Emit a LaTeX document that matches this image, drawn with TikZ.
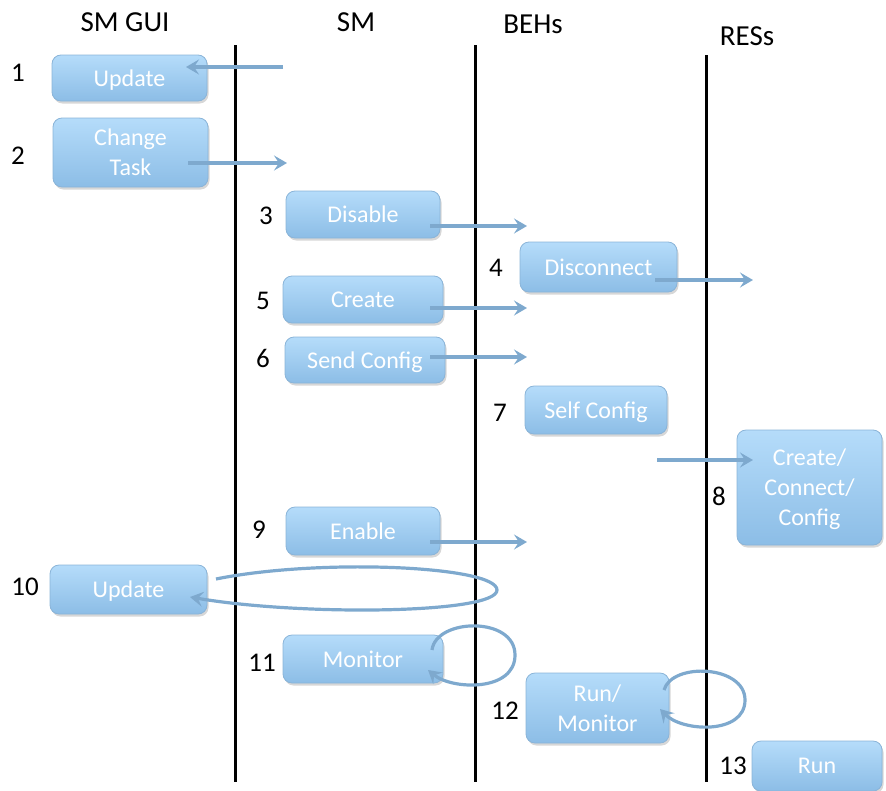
\documentclass[tikz,border=0pt]{standalone}
\usepackage{fontspec}
\setmainfont{Carlito}
\usetikzlibrary{arrows.meta,shadows}
\definecolor{boxtop}{HTML}{B5DCFA}
\definecolor{boxbot}{HTML}{8CBDE6}
\definecolor{boxline}{HTML}{8AB4D8}
\definecolor{arr}{HTML}{7EA9CE}
\begin{document}
\begin{tikzpicture}[x=1pt,y=-1pt,
  box/.style={rounded corners=9pt, draw=boxline, line width=0.8pt,
    top color=boxtop, bottom color=boxbot, text=white, align=center,
    inner sep=0pt, text depth=0pt, font=\fontsize{24}{30}\selectfont,
    drop shadow={shadow xshift=1.5pt, shadow yshift=-2.5pt, fill=black!35, opacity=0.45}},
  num/.style={font=\fontsize{27}{30}\selectfont, inner sep=0pt},
  head/.style={font=\fontsize{29}{32}\selectfont, inner sep=0pt},
  life/.style={line width=3pt, black},
  msg/.style={arr, line width=3.2pt, -{Stealth[length=13pt,width=15pt,inset=5pt]}}]
\useasboundingbox (0,0) rectangle (886,790);
% lifelines
\coordinate (l1t) at (235,45); \coordinate (l1b) at (235,782);
\coordinate (l2t) at (475,45); \coordinate (l2b) at (475,782);
\coordinate (l3t) at (706,55); \coordinate (l3b) at (706,782);
\draw[life] (l1t) -- (l1b);
\draw[life] (l2t) -- (l2b);
\draw[life] (l3t) -- (l3b);
% headers
\node[head] (hgui) at (125,22) {SM GUI};
\node[head] (hsm) at (356,22) {SM};
\node[head] (hbeh) at (533,24) {BEHs};
\node[head] (hres) at (747,36) {RESs};
% boxes
\node[box, minimum width=155, minimum height=46] (b1) at (129.5,78) {Update};
\node[box, minimum width=155, minimum height=69] (b2) at (130.5,152.5) {Change\\Task};
\node[box, minimum width=154, minimum height=47] (b3) at (363,214.5) {Disable};
\node[box, minimum width=157, minimum height=50] (b4) at (598.5,267) {Disconnect};
\node[box, minimum width=160, minimum height=47] (b5) at (363,299.5) {Create};
\node[box, minimum width=160, minimum height=46] (b6) at (365,360) {Send Config};
\node[box, minimum width=142, minimum height=48] (b7) at (596,410) {Self Config};
\node[box, minimum width=145, minimum height=115] (b8) at (809.5,487.5) {Create/\\Connect/\\Config};
\node[box, minimum width=154, minimum height=48] (b9) at (363,531) {Enable};
\node[box, minimum width=157, minimum height=49] (b10) at (128.5,589.5) {Update};
\node[box, minimum width=160, minimum height=48] (b11) at (363,659) {Monitor};
\node[box, minimum width=143, minimum height=70] (b12) at (597.5,708) {Run/\\Monitor};
\node[box, minimum width=130, minimum height=50] (b13) at (817,766) {Run};
% numbers
\node[num] (n1) at (18,73) {1};
\node[num] (n2) at (18,156) {2};
\node[num] (n3) at (266,216) {3};
\node[num] (n4) at (496,268) {4};
\node[num] (n5) at (263,301) {5};
\node[num] (n6) at (263,358) {6};
\node[num] (n7) at (500,413) {7};
\node[num] (n8) at (719,496) {8};
\node[num] (n9) at (259,530) {9};
\node[num] (n10) at (25,587) {10};
\node[num] (n11) at (262,663) {11};
\node[num] (n12) at (505,711) {12};
\node[num] (n13) at (733,766) {13};
% message coordinates
\coordinate (a1s) at (283,67);  \coordinate (a1e) at (186,67);
\coordinate (a2s) at (188,163); \coordinate (a2e) at (287,163);
\coordinate (a3s) at (430,226); \coordinate (a3e) at (527,226);
\coordinate (a4s) at (655,280); \coordinate (a4e) at (753,280);
\coordinate (a5s) at (430,308); \coordinate (a5e) at (527,308);
\coordinate (a6s) at (430,357); \coordinate (a6e) at (527,357);
\coordinate (a8s) at (657,460); \coordinate (a8e) at (753,460);
\coordinate (a9s) at (430,542); \coordinate (a9e) at (527,542);
\draw[msg] (a1s) -- (a1e);
\draw[msg] (a2s) -- (a2e);
\draw[msg] (a3s) -- (a3e);
\draw[msg] (a4s) -- (a4e);
\draw[msg] (a5s) -- (a5e);
\draw[msg] (a6s) -- (a6e);
\draw[msg] (a8s) -- (a8e);
\draw[msg] (a9s) -- (a9e);
% loops
\coordinate (c10s) at (216,579); \coordinate (c10e) at (190,597);
\draw[msg] (c10s) .. controls (320,558) and (497,566) .. (497,590)
  .. controls (497,614) and (300,616) .. (c10e);
\coordinate (c11s) at (432,650); \coordinate (c11e) at (428,670);
\draw[msg] (c11s) .. controls (436,618) and (515,616) .. (515,655)
  .. controls (515,692) and (452,690) .. (c11e);
\coordinate (c12s) at (664,690); \coordinate (c12e) at (660,709);
\draw[msg] (c12s) .. controls (672,662) and (745,665) .. (745,700)
  .. controls (745,735) and (682,732) .. (c12e);
\end{tikzpicture}
\end{document}
